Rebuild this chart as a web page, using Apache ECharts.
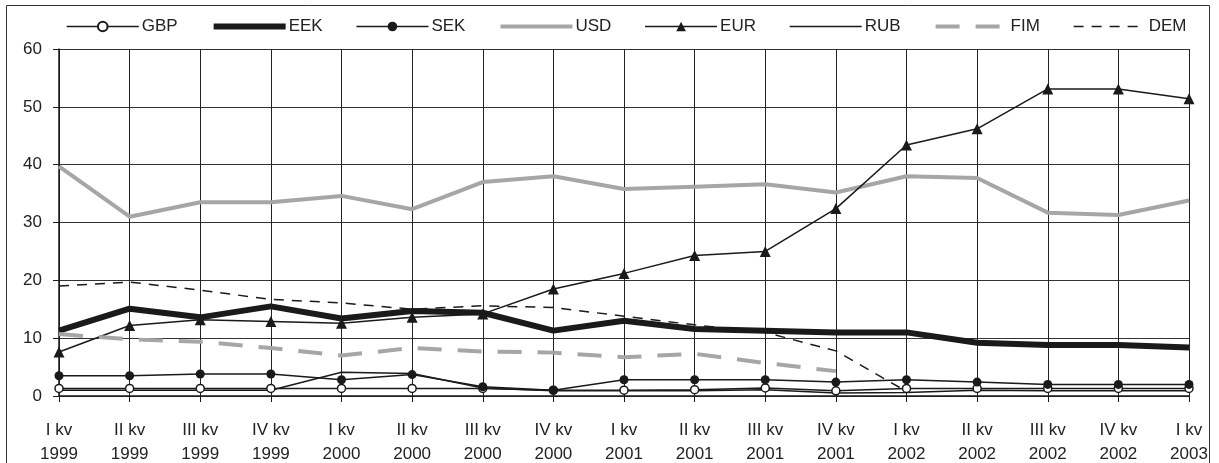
<!DOCTYPE html>
<html>
<head>
<meta charset="utf-8">
<script src="https://cdn.jsdelivr.net/npm/echarts@6/dist/echarts.min.js"></script>
<style>
  html, body { margin: 0; padding: 0; background: #fff; }
  #chart { width: 1219px; height: 463px; }
</style>
</head>
<body>
<div id="chart"></div>
<script>
const categories = [
  'I kv\n1999', 'II kv\n1999', 'III kv\n1999', 'IV kv\n1999',
  'I kv\n2000', 'II kv\n2000', 'III kv\n2000', 'IV kv\n2000',
  'I kv\n2001', 'II kv\n2001', 'III kv\n2001', 'IV kv\n2001',
  'I kv\n2002', 'II kv\n2002', 'III kv\n2002', 'IV kv\n2002',
  'I kv\n2003'
];
const gbp = [1.3, 1.3, 1.3, 1.3, 1.3, 1.3, 1.3, 1.0, 1.0, 1.1, 1.4, 0.9, 1.3, 1.3, 1.3, 1.3, 1.3];
const eek = [11.3, 15.1, 13.6, 15.5, 13.4, 14.7, 14.4, 11.3, 13.0, 11.6, 11.3, 11.0, 11.0, 9.2, 8.8, 8.8, 8.4];
const sek = [3.5, 3.5, 3.8, 3.8, 2.8, 3.7, 1.6, 1.0, 2.8, 2.8, 2.8, 2.4, 2.8, 2.4, 2.0, 2.0, 2.0];
const usd = [39.7, 31.0, 33.5, 33.5, 34.6, 32.3, 37.0, 38.0, 35.8, 36.2, 36.6, 35.2, 38.0, 37.7, 31.7, 31.3, 33.8];
const eur = [7.6, 12.2, 13.2, 12.9, 12.6, 13.6, 14.2, 18.5, 21.2, 24.3, 25.0, 32.4, 43.4, 46.2, 53.1, 53.1, 51.4];
const rub = [1.0, 1.0, 1.0, 1.0, 4.1, 3.9, 1.4, 0.9, 0.9, 0.9, 1.1, 0.5, 0.6, 1.0, 0.9, 0.9, 0.9];
const fim = [10.7, 9.8, 9.4, 8.3, 7.0, 8.3, 7.7, 7.5, 6.7, 7.3, 5.7, 4.3, null, null, null, null, null];
const dem = [19.0, 19.7, 18.3, 16.7, 16.1, 15.0, 15.6, 15.3, 13.8, 12.3, 11.0, 7.8, 0.8, null, null, null, null];
const yTicks = [0, 10, 20, 30, 40, 50, 60];

const black = '#1a1a1a';
const grey = '#a6a6a6';
const font = 'Liberation Sans, Arial, sans-serif';

const styles = {
  GBP: { line: { color: black, width: 1.5, type: 'solid' } },
  EEK: { line: { color: black, width: 6, type: 'solid' }, noMarker: true },
  SEK: { line: { color: black, width: 1.5, type: 'solid' } },
  USD: { line: { color: grey, width: 4, type: 'solid' }, noMarker: true },
  EUR: { line: { color: black, width: 1.5, type: 'solid' } },
  RUB: { line: { color: black, width: 1.5, type: 'solid' }, noMarker: true },
  FIM: { line: { color: grey, width: 4, type: [24, 16] }, noMarker: true },
  DEM: { line: { color: black, width: 1.5, type: [10, 8] }, noMarker: true }
};
const legendNames = ['GBP', 'EEK', 'SEK', 'USD', 'EUR', 'RUB', 'FIM', 'DEM'];

const myChart = echarts.init(document.getElementById('chart'), null, { renderer: 'canvas' });

const option = {
  animation: false,
  backgroundColor: '#fff',
  graphic: [{
    type: 'rect',
    shape: { x: 6.5, y: 5.5, width: 1203, height: 470 },
    style: { fill: 'none', stroke: '#333', lineWidth: 1 },
    silent: true
  }],
  legend: {
    top: 13,
    left: 61,
    itemWidth: 72,
    itemHeight: 12,
    itemGap: 33,
    textStyle: { fontFamily: font, fontSize: 17, color: '#222', padding: [0, 0, 0, -2] },
    data: legendNames.map(name => {
      const s = styles[name];
      const item = { name, lineStyle: Object.assign({}, s.line) };
      if (s.noMarker) item.itemStyle = { opacity: 0 };
      return item;
    })
  },
  grid: { left: 59, right: 30, top: 49, bottom: 67, outerBoundsMode: 'none' },
  xAxis: {
    type: 'category',
    boundaryGap: false,
    data: categories,
    axisLine: { lineStyle: { color: black, width: 1.5 } },
    axisTick: { show: true, length: 6, lineStyle: { color: black } },
    axisLabel: {
      margin: 22, fontFamily: font, fontSize: 17, lineHeight: 24, color: '#222',
      interval: 0
    },
    splitLine: { show: true, lineStyle: { color: '#222', width: 1 } }
  },
  yAxis: {
    type: 'value',
    min: yTicks[0],
    max: yTicks[yTicks.length - 1],
    interval: 10,
    axisLine: { show: true, lineStyle: { color: black, width: 1.5 } },
    axisTick: { show: true, length: 6, lineStyle: { color: black } },
    axisLabel: { margin: 17, fontFamily: font, fontSize: 17, color: '#222' },
    splitLine: { show: true, lineStyle: { color: '#333', width: 1 } }
  },
  series: [
    {
      name: 'GBP', type: 'line', data: gbp,
      symbol: 'circle', symbolSize: 8,
      lineStyle: styles.GBP.line,
      itemStyle: { color: '#fff', borderColor: black, borderWidth: 1.5 }
    },
    {
      name: 'EEK', type: 'line', data: eek,
      symbol: 'none',
      lineStyle: styles.EEK.line,
      itemStyle: { color: black }
    },
    {
      name: 'SEK', type: 'line', data: sek,
      symbol: 'circle', symbolSize: 9,
      lineStyle: styles.SEK.line,
      itemStyle: { color: black }
    },
    {
      name: 'USD', type: 'line', data: usd,
      symbol: 'none',
      lineStyle: styles.USD.line,
      itemStyle: { color: grey }
    },
    {
      name: 'EUR', type: 'line', data: eur,
      symbol: 'triangle', symbolSize: 11,
      lineStyle: styles.EUR.line,
      itemStyle: { color: black }
    },
    {
      name: 'RUB', type: 'line', data: rub,
      symbol: 'none',
      lineStyle: styles.RUB.line,
      itemStyle: { color: black }
    },
    {
      name: 'FIM', type: 'line', data: fim,
      symbol: 'none',
      lineStyle: styles.FIM.line,
      itemStyle: { color: grey }
    },
    {
      name: 'DEM', type: 'line', data: dem,
      symbol: 'none',
      lineStyle: styles.DEM.line,
      itemStyle: { color: black }
    }
  ]
};

myChart.setOption(option);
</script>
</body>
</html>
